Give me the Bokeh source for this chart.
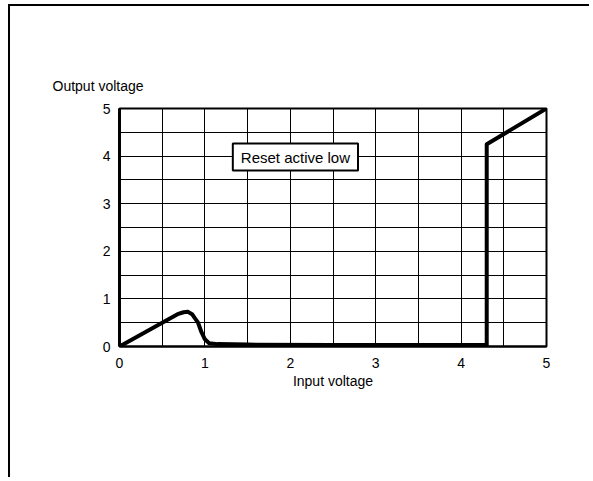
from bokeh.plotting import figure
from bokeh.models import Label, FixedTicker, Range1d
from bokeh.embed import file_html
from bokeh.resources import INLINE

# ---- data ----
input_v = [0.0, 0.5, 0.68, 0.75, 0.8, 0.85, 0.88, 0.92, 0.96, 1.0, 1.05, 1.15, 1.5, 2.5, 3.5, 4.3, 4.3, 5.0]
output_v = [0.0, 0.5, 0.68, 0.72, 0.73, 0.68, 0.6, 0.5, 0.3, 0.15, 0.07, 0.05, 0.04, 0.03, 0.03, 0.03, 4.25, 5.0]
tick_values = [0, 1, 2, 3, 4, 5]
grid_values = [0, 0.5, 1, 1.5, 2, 2.5, 3, 3.5, 4, 4.5, 5]
x_title = "Input voltage"
y_title = "Output voltage"
note_text = "Reset active low"

FONT = "Liberation Sans"

p = figure(width=581, height=473, output_backend="svg", toolbar_location=None,
           x_range=Range1d(0, 5), y_range=Range1d(0, 5),
           min_border_left=109, min_border_right=45, min_border_top=102, min_border_bottom=133)
p.styles = {"border-top": "2px solid black", "border-left": "2px solid black",
            "margin-top": "4px", "margin-left": "8px"}

p.background_fill_color = "white"
p.border_fill_color = "white"
p.outline_line_color = "black"
p.outline_line_width = 2

for g in (p.xgrid, p.ygrid):
    g.ticker = FixedTicker(ticks=grid_values)
    g.grid_line_color = "black"
    g.grid_line_width = 1
    g.grid_line_alpha = 1.0

p.xaxis.ticker = FixedTicker(ticks=tick_values)
p.yaxis.ticker = FixedTicker(ticks=tick_values)
for ax in (p.xaxis[0], p.yaxis[0]):
    ax.major_tick_line_color = None
    ax.minor_tick_line_color = None
    ax.axis_line_color = "black"
    ax.major_label_text_font = FONT
    ax.major_label_text_font_size = "14px"
    ax.major_label_text_color = "black"
    ax.axis_label_text_font = FONT
    ax.axis_label_text_font_size = "14px"
    ax.axis_label_text_font_style = "normal"
    ax.axis_label_text_color = "black"
p.yaxis.axis_line_width = 3
p.xaxis.axis_line_width = 2
p.yaxis.major_label_standoff = 3
p.xaxis.major_label_standoff = 5
p.xaxis.axis_label = x_title
p.xaxis.axis_label_standoff = 2

p.title.text = y_title
p.title.align = "left"
p.title.offset = -67
p.title.text_font = FONT
p.title.text_font_size = "14px"
p.title.text_font_style = "normal"
p.title.text_color = "black"
p.title.standoff = 29

p.line(input_v, output_v, line_color="black", line_width=4, line_join="round")

p.add_layout(Label(x=2.06, y=3.98, text=note_text, text_font=FONT, text_font_size="15px",
                   text_color="black", text_baseline="middle", text_align="center",
                   background_fill_color="white", border_line_color="black",
                   border_line_width=2, padding=(8, 5)))

open("out.html", "w").write(file_html(p, INLINE))
